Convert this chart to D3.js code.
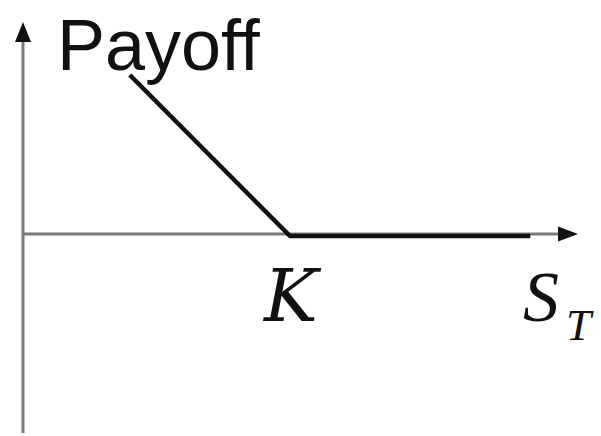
<!DOCTYPE html>
<html>
<head>
<meta charset="utf-8">
<script src="https://cdn.jsdelivr.net/npm/d3@7"></script>
<style>
  body { margin: 0; background: #fff; }
  svg { display: block; }
  .sans { font-family: "Liberation Sans", Arial, Helvetica, sans-serif; }
  .serif { font-family: "DejaVu Serif", serif; font-style: italic; }
  .serif2 { font-family: "Liberation Serif"; font-style: italic; }
</style>
</head>
<body>
<div id="chart"></div>
<script>
// payoff of a long put: max(K - S, 0)
var strike = 50;
var prices = [20, 50, 95];
var payoffs = [30, 0, 0];
var labels = { y: "Payoff", k: "K", s: "S", sub: "T" };

var w = 601, h = 436;

var x = d3.scaleLinear().domain([0, 100]).range([23, 557]);
var y = d3.scaleLinear().domain([0, 30]).range([236, 75]);

var svg = d3.select("#chart").append("svg")
  .attr("width", w)
  .attr("height", h);

// axes
var x0 = x(0), y0 = y(0);
svg.append("line")
  .attr("x1", x0).attr("y1", 433)
  .attr("x2", x0).attr("y2", 40)
  .attr("stroke", "#7a7a7a").attr("stroke-width", 3);
svg.append("path")
  .attr("d", "M" + x0 + ",22 L" + (x0 - 8) + ",42 L" + (x0 + 8) + ",42 Z")
  .attr("fill", "#111");

svg.append("line")
  .attr("x1", x0).attr("y1", y0 - 2)
  .attr("x2", 560).attr("y2", y0 - 2)
  .attr("stroke", "#7a7a7a").attr("stroke-width", 3);
svg.append("path")
  .attr("d", "M578," + (y0 - 2) + " L558," + (y0 - 9.5) + " L558," + (y0 + 5.5) + " Z")
  .attr("fill", "#111");

// payoff line
var pts = prices.map(function(d, i) { return [d, payoffs[i]]; });
var line = d3.line()
  .x(function(d) { return x(d[0]); })
  .y(function(d) { return y(d[1]); });

svg.append("path")
  .datum(pts)
  .attr("d", line)
  .attr("fill", "none")
  .attr("stroke", "#111")
  .attr("stroke-width", 4.5)
  .attr("stroke-linejoin", "round");

// labels
svg.append("text")
  .attr("class", "sans")
  .attr("x", 57).attr("y", 70)
  .attr("font-size", 72)
  .attr("fill", "#111")
  .text(labels.y);

svg.append("text")
  .attr("class", "serif")
  .attr("x", x(strike) - 26).attr("y", 321)
  .attr("font-size", 72)
  .attr("fill", "#111")
  .text(labels.k);

var st = svg.append("text")
  .attr("class", "serif2")
  .attr("x", 523).attr("y", 321)
  .attr("font-size", 72)
  .attr("fill", "#111");
st.append("tspan").text(labels.s);
st.append("tspan")
  .attr("x", 566).attr("y", 340)
  .attr("font-size", 45)
  .text(labels.sub);
</script>
</body>
</html>
